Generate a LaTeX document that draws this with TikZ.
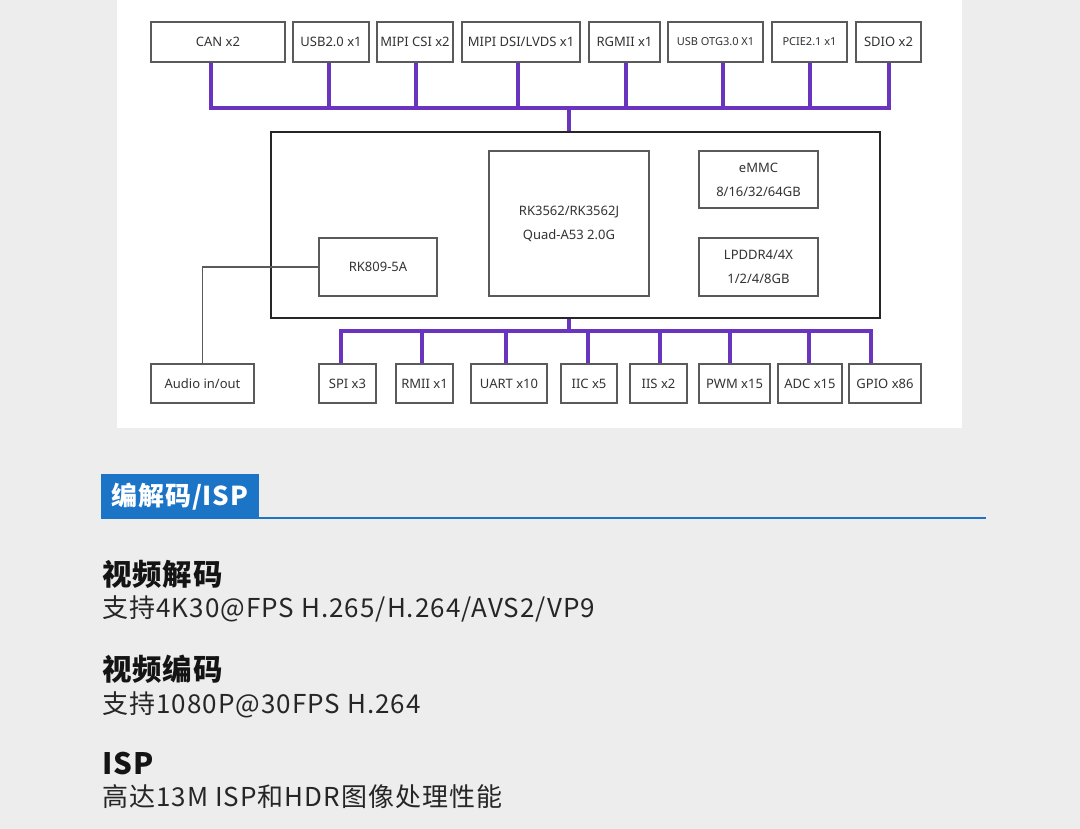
\documentclass[tikz,border=0pt]{standalone}
\usepackage{fontspec}
\setmainfont{Noto Sans}
\newfontfamily\cjk{Noto Sans CJK SC}
\newfontfamily\cjkwide[LetterSpace=4]{Noto Sans CJK SC}
\newfontfamily\cjkhead[LetterSpace=3]{Noto Sans CJK SC}
\definecolor{bgc}{HTML}{EDEDED}
\definecolor{busc}{HTML}{6A34BE}
\definecolor{boxc}{HTML}{5A5A5A}
\definecolor{txtc}{HTML}{333333}
\definecolor{bluec}{HTML}{1B74C6}
\begin{document}
\begin{tikzpicture}[x=1pt,y=-1pt,
  box/.style={draw=boxc, line width=1.3pt, fill=white, inner sep=0pt, text=txtc,
    font=\fontsize{13}{24}\selectfont, align=center},
  smallbox/.style={box, font=\fontsize{11}{14}\selectfont},
  mainbox/.style={draw=black!85, line width=1.6pt, inner sep=0pt},
  bus/.style={draw=busc, line width=4pt, line join=miter},
  wire/.style={draw=boxc, line width=1.4pt},
  hdr/.style={fill=bluec, text=white, inner sep=0pt, font=\cjkhead\bfseries\fontsize{26}{30}\selectfont},
  title/.style={anchor=west, inner sep=0pt, text=black!92, font=\cjkhead\bfseries\fontsize{29.5}{32}\selectfont},
  body/.style={anchor=west, inner sep=0pt, text=black!85, font=\cjkwide\fontsize{26}{30}\selectfont}]
\useasboundingbox (0,0) rectangle (1080,829);
\fill[bgc] (0,0) rectangle (1080,829);
\fill[white] (117,0) rectangle (962,428);

% top row
\node[box, minimum width=134, minimum height=40] (can) at (218,42) {CAN x2};
\node[box, minimum width=76, minimum height=40] (usb2) at (331,42) {USB2.0 x1};
\node[box, minimum width=76, minimum height=40] (csi) at (415,42) {MIPI CSI x2};
\node[box, minimum width=118, minimum height=40] (dsi) at (521,42) {MIPI DSI/LVDS x1};
\node[box, minimum width=71, minimum height=40] (rgmii) at (624.5,42) {RGMII x1};
\node[smallbox, minimum width=95, minimum height=40] (otg) at (715.5,42) {USB OTG3.0 X1};
\node[smallbox, minimum width=75, minimum height=40] (pcie) at (809.5,42) {PCIE2.1 x1};
\node[box, minimum width=65, minimum height=40] (sdio) at (888.5,42) {SDIO x2};

% main board
\node[mainbox, minimum width=609, minimum height=186] (main) at (575.5,225) {};
\node[box, minimum width=160, minimum height=145] (cpu) at (569,223.5) {RK3562/RK3562J\\Quad-A53 2.0G};
\node[box, minimum width=119, minimum height=57] (emmc) at (758.5,179.5) {eMMC\\8/16/32/64GB};
\node[box, minimum width=119, minimum height=58] (ddr) at (758.5,267) {LPDDR4/4X\\1/2/4/8GB};
\node[box, minimum width=118, minimum height=58] (rk) at (378,267) {RK809-5A};

% bottom row
\node[box, minimum width=103, minimum height=39] (audio) at (202.5,383.5) {Audio in/out};
\node[box, minimum width=57, minimum height=39] (spi) at (347.5,383.5) {SPI x3};
\node[box, minimum width=57, minimum height=39] (rmii) at (424.5,383.5) {RMII x1};
\node[box, minimum width=76, minimum height=39] (uart) at (509,383.5) {UART x10};
\node[box, minimum width=56, minimum height=39] (iic) at (589,383.5) {IIC x5};
\node[box, minimum width=57, minimum height=39] (iis) at (658.5,383.5) {IIS x2};
\node[box, minimum width=71, minimum height=39] (pwm) at (734.5,383.5) {PWM x15};
\node[box, minimum width=64, minimum height=39] (adc) at (810,383.5) {ADC x15};
\node[box, minimum width=72, minimum height=39] (gpio) at (885,383.5) {GPIO x86};

% buses
\coordinate (tb) at (569,108);
\coordinate (bb) at (569,331);
\draw[bus] ([xshift=-7pt]can.south) |- (tb);
\draw[bus] ([xshift=-2pt]usb2.south) |- (tb);
\draw[bus] ([xshift=1pt]csi.south) |- (tb);
\draw[bus] ([xshift=-3pt]dsi.south) |- (tb);
\draw[bus] ([xshift=1.5pt]rgmii.south) |- (tb);
\draw[bus] ([xshift=7.5pt]otg.south) |- (tb);
\draw[bus] ([xshift=0.5pt]pcie.south) |- (tb);
\draw[bus] ([xshift=0.5pt]sdio.south) |- (tb);
\draw[bus] (tb) -- (tb |- main.north);

\draw[bus] (bb |- main.south) -- (bb);
\draw[bus] ([xshift=-6.5pt]spi.north) |- (bb);
\draw[bus] ([xshift=-2.5pt]rmii.north) |- (bb);
\draw[bus] ([xshift=-3pt]uart.north) |- (bb);
\draw[bus] ([xshift=-1pt]iic.north) |- (bb);
\draw[bus] ([xshift=1.5pt]iis.north) |- (bb);
\draw[bus] ([xshift=-4.5pt]pwm.north) |- (bb);
\draw[bus] ([xshift=-1pt]adc.north) |- (bb);
\draw[bus] ([xshift=-14pt]gpio.north) |- (bb);

\draw[wire] (rk.west) -| (audio.north);

% lower section
\node[hdr, minimum width=158, minimum height=45] (hdrbox) at (180,496.5) {编解码/ISP};
\coordinate (lineend) at (986,518);
\draw[draw=bluec, line width=2.4pt] (hdrbox.east |- lineend) -- (lineend);

\node[title] (t1) at (102,574) {视频解码};
\node[body] (b1) at (102,609) {支持4K30@FPS H.265/H.264/AVS2/VP9};
\node[title] (t2) at (102,669) {视频编码};
\node[body] (b2) at (102,705) {支持1080P@30FPS H.264};
\node[title] (t3) at (102,764) {ISP};
\node[body] (b3) at (102,797) {高达13M ISP和HDR图像处理性能};
\end{tikzpicture}
\end{document}
